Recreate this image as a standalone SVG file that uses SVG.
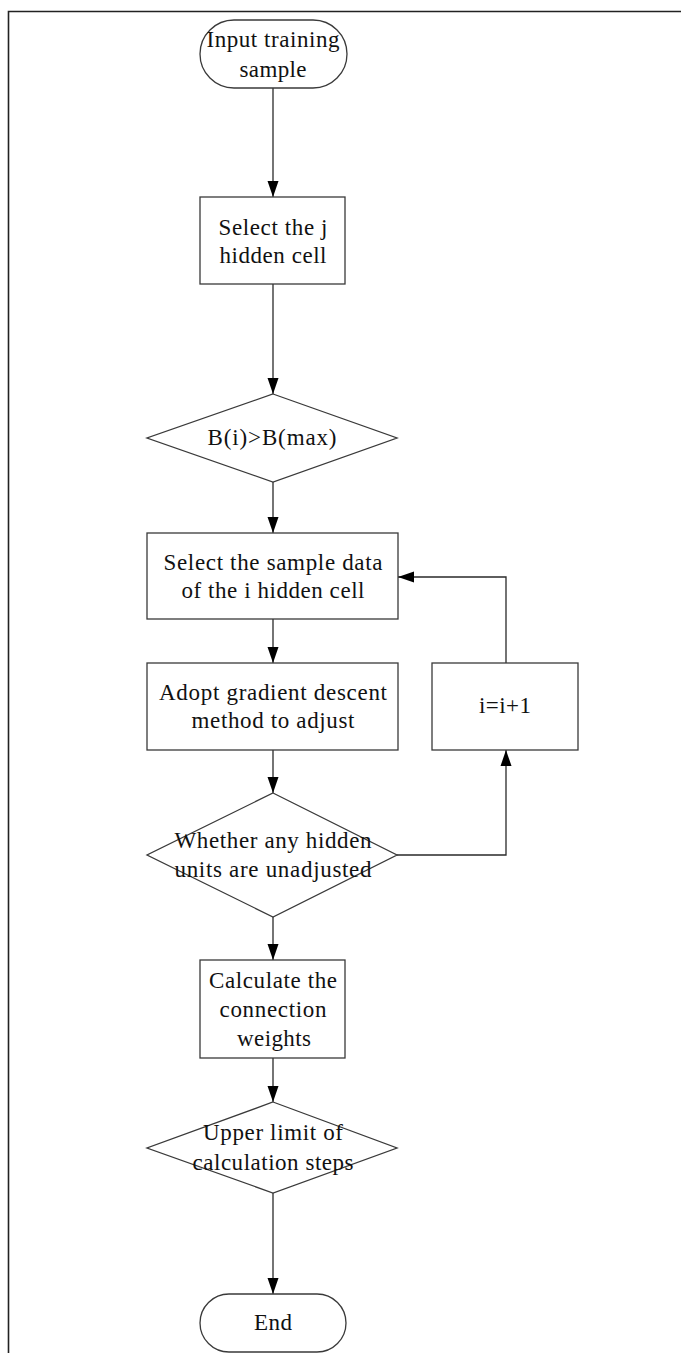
<svg xmlns="http://www.w3.org/2000/svg" width="681" height="1353" viewBox="0 0 681 1353">
<defs>
<style>
.s{fill:#fff;stroke:#3a3a3a;stroke-width:1.3}
.c{fill:none;stroke:#2a2a2a;stroke-width:1.3}
.t{font-family:"Liberation Serif","Times New Roman",serif;font-size:23px;fill:#111;text-anchor:middle}
</style>
<marker id="a" markerUnits="userSpaceOnUse" markerWidth="17" markerHeight="12" viewBox="0 0 17 12" refX="16" refY="6" orient="auto">
<path d="M0,0.5 L16,6 L0,11.5 Z" fill="#000"/>
</marker>
</defs>
<rect width="681" height="1353" fill="#fff"/>
<path d="M8.5,1353 V11.5 H681" fill="none" stroke="#222" stroke-width="1.6"/>
<g id="connectors">
<path class="c" d="M273,88 V197" marker-end="url(#a)"/>
<path class="c" d="M273,284 V394" marker-end="url(#a)"/>
<path class="c" d="M273,482 V533" marker-end="url(#a)"/>
<path class="c" d="M273,619 V663" marker-end="url(#a)"/>
<path class="c" d="M273,750 V793" marker-end="url(#a)"/>
<path class="c" d="M273,917 V960" marker-end="url(#a)"/>
<path class="c" d="M273,1058 V1102" marker-end="url(#a)"/>
<path class="c" d="M273,1193 V1294" marker-end="url(#a)"/>
<path class="c" d="M397,855 H506 V750" marker-end="url(#a)"/>
<path class="c" d="M506,663 V577 H398" marker-end="url(#a)"/>
</g>
<g id="start">
<rect class="s" x="200" y="20" width="147" height="68" rx="34" ry="34"/>
<text class="t" x="273" y="47" textLength="133" lengthAdjust="spacing">Input training</text>
<text class="t" x="273" y="77" textLength="67" lengthAdjust="spacing">sample</text>
</g>
<g id="select-j">
<rect class="s" x="200" y="197" width="145" height="87"/>
<text class="t" x="273" y="235" textLength="109" lengthAdjust="spacing">Select the j</text>
<text class="t" x="273" y="263" textLength="107" lengthAdjust="spacing">hidden cell</text>
</g>
<g id="cond-b">
<polygon class="s" points="273,394 397,438 273,482 147,438"/>
<text class="t" x="272" y="445" textLength="129" lengthAdjust="spacing">B(i)&gt;B(max)</text>
</g>
<g id="select-sample">
<rect class="s" x="147" y="533" width="251" height="86"/>
<text class="t" x="273" y="570" textLength="219" lengthAdjust="spacing">Select the sample data</text>
<text class="t" x="273" y="598" textLength="183" lengthAdjust="spacing">of the i hidden cell</text>
</g>
<g id="gradient">
<rect class="s" x="147" y="663" width="251" height="87"/>
<text class="t" x="273" y="700" textLength="228" lengthAdjust="spacing">Adopt gradient descent</text>
<text class="t" x="273" y="728" textLength="163" lengthAdjust="spacing">method to adjust</text>
</g>
<g id="increment">
<rect class="s" x="432" y="663" width="146" height="87"/>
<text class="t" x="505" y="713" textLength="52" lengthAdjust="spacing">i=i+1</text>
</g>
<g id="cond-hidden">
<polygon class="s" points="273,793 397,855 273,917 147,855"/>
<text class="t" x="273" y="848" textLength="197" lengthAdjust="spacing">Whether any hidden</text>
<text class="t" x="273" y="877" textLength="197" lengthAdjust="spacing">units are unadjusted</text>
</g>
<g id="calc-weights">
<rect class="s" x="200" y="960" width="145" height="98"/>
<text class="t" x="273" y="988" textLength="128" lengthAdjust="spacing">Calculate the</text>
<text class="t" x="273" y="1017" textLength="107" lengthAdjust="spacing">connection</text>
<text class="t" x="274" y="1046" textLength="74" lengthAdjust="spacing">weights</text>
</g>
<g id="cond-steps">
<polygon class="s" points="273,1102 397,1148 273,1193 147,1148"/>
<text class="t" x="273" y="1140" textLength="140" lengthAdjust="spacing">Upper limit of</text>
<text class="t" x="273" y="1170" textLength="161" lengthAdjust="spacing">calculation steps</text>
</g>
<g id="end">
<rect class="s" x="200" y="1294" width="146" height="58" rx="29" ry="29"/>
<text class="t" x="273" y="1330" textLength="38" lengthAdjust="spacing">End</text>
</g>
</svg>
